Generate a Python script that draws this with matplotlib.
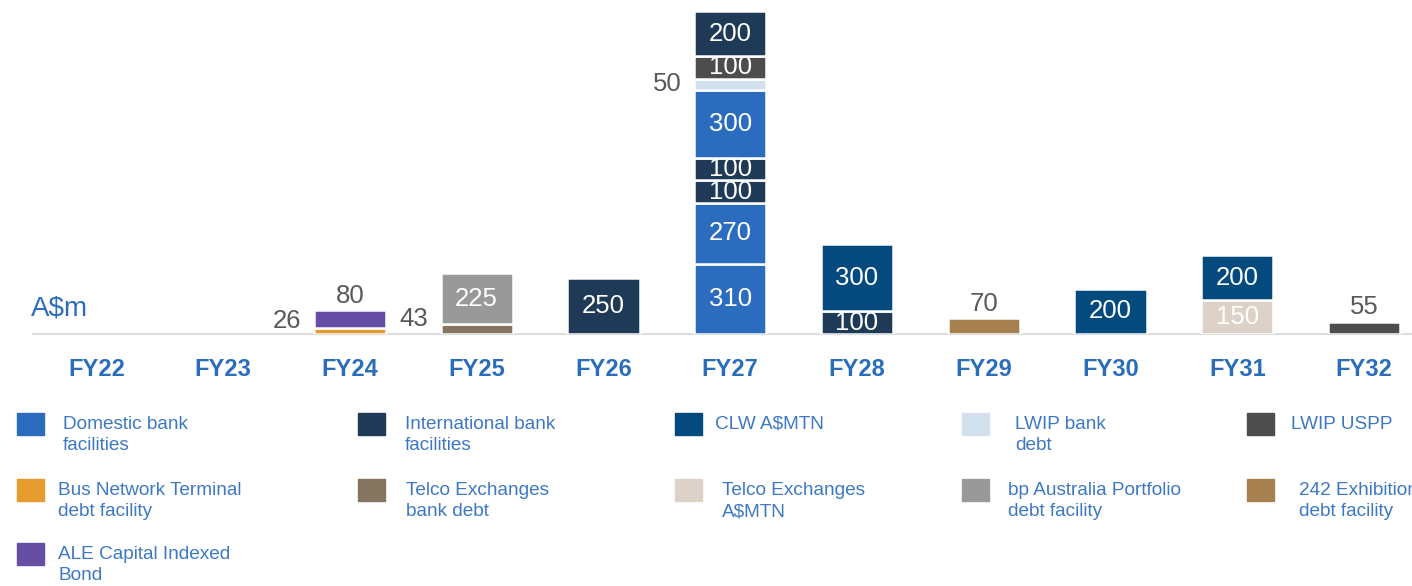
import matplotlib
matplotlib.use("Agg")
import matplotlib.pyplot as plt
from matplotlib.patches import Rectangle

plt.rcParams['font.family'] = ['Liberation Sans', 'DejaVu Sans']

# --- data ---------------------------------------------------------------
years = ['FY22', 'FY23', 'FY24', 'FY25', 'FY26', 'FY27',
         'FY28', 'FY29', 'FY30', 'FY31', 'FY32']

facilities = ['Domestic bank\nfacilities', 'International bank\nfacilities',
              'CLW A$MTN', 'LWIP bank\ndebt', 'LWIP USPP',
              'Bus Network Terminal\ndebt facility', 'Telco Exchanges\nbank debt',
              'Telco Exchanges\nA$MTN', 'bp Australia Portfolio\ndebt facility',
              '242 Exhibition\ndebt facility', 'ALE Capital Indexed\nBond']

colours = ['#2B6CBF', '#1F3A56', '#054A7E', '#D3E0EE', '#4D4D4D',
           '#E59B2E', '#857460', '#DDD2C8', '#999999', '#A6804F', '#654EA3']

# stacked segments per year, bottom to top: (facility index, amount A$m)
stacks = [
    [],
    [],
    [(5, 26), (10, 80)],
    [(6, 43), (8, 225)],
    [(1, 250)],
    [(0, 310), (0, 270), (1, 100), (1, 100), (0, 300), (3, 50), (4, 100), (1, 200)],
    [(1, 100), (2, 300)],
    [(9, 70)],
    [(2, 200)],
    [(7, 150), (2, 200)],
    [(4, 55)],
]

# --- figure -------------------------------------------------------------
W, H = 1412, 586
fig = plt.figure(figsize=(W / 100, H / 100), dpi=100)

base_px = 334
ax = fig.add_axes([33 / W, (H - base_px) / H, (W - 33) / W, base_px / H])
ax.set_facecolor('none')

blue_txt = '#2A6EBB'
grey_txt = '#595959'
bar_w = 0.57
lab_fs = 18.5

for i, segs in enumerate(stacks):
    bottom = 0
    for k, (f, v) in enumerate(segs):
        ax.bar(i, v, bottom=bottom, width=bar_w, color=colours[f],
               edgecolor='white', linewidth=1.8, zorder=3)
        is_top = k == len(segs) - 1
        if is_top and v < 90:
            ax.text(i, bottom + v + 10, str(v), ha='center', va='bottom',
                    fontsize=lab_fs, color=grey_txt)
        elif v < 60:
            if k == 0:
                ax.text(i - bar_w / 2 - 0.1, bottom + v / 2 - 10, str(v), ha='right',
                        va='bottom', fontsize=lab_fs, color=grey_txt)
            else:
                ax.text(i - bar_w / 2 - 0.1, bottom + v / 2, str(v), ha='right',
                        va='center', fontsize=lab_fs, color=grey_txt)
        else:
            ax.text(i, bottom + v / 2, str(v), ha='center', va='center',
                    fontsize=lab_fs, color='white', zorder=4)
        bottom += v

ax.set_xlim(-0.5, (W - 96) / 126.8)
ax.set_ylim(0, base_px / 0.22587)
ax.set_xticks(range(len(years)))
ax.set_xticklabels(years, fontsize=17, fontweight='bold', color=blue_txt)
ax.tick_params(axis='x', length=0, pad=17)
ax.set_yticks([])
for s in ['top', 'right', 'left']:
    ax.spines[s].set_visible(False)
ax.spines['bottom'].set_color('#DDDDDD')
ax.spines['bottom'].set_linewidth(1.5)

ax.text(-0.52, 115, 'A\\$m', fontsize=20, color=blue_txt, ha='left', va='center')

# --- legend (pixel layout) ---------------------------------------------
lax = fig.add_axes([0, 0, 1, 1], zorder=-1)
lax.set_xlim(0, W)
lax.set_ylim(H, 0)
lax.axis('off')

sq_x = [17, 358, 675, 962, 1247]
row_y = [424, 490, 554]
txt_x = [[63, 405, 715, 1015, 1291],
         [58, 406, 722, 1008, 1299],
         [58]]

for n, name in enumerate(facilities):
    r, c = divmod(n, 5)
    lax.add_patch(Rectangle((sq_x[c], row_y[r] - 11), 27, 22, color=colours[n]))
    lax.text(txt_x[r][c], row_y[r] - 8, name, fontsize=13.7, color='#3D78C5',
             ha='left', va='top', linespacing=1.32)

fig.savefig('out.png', dpi=100)
